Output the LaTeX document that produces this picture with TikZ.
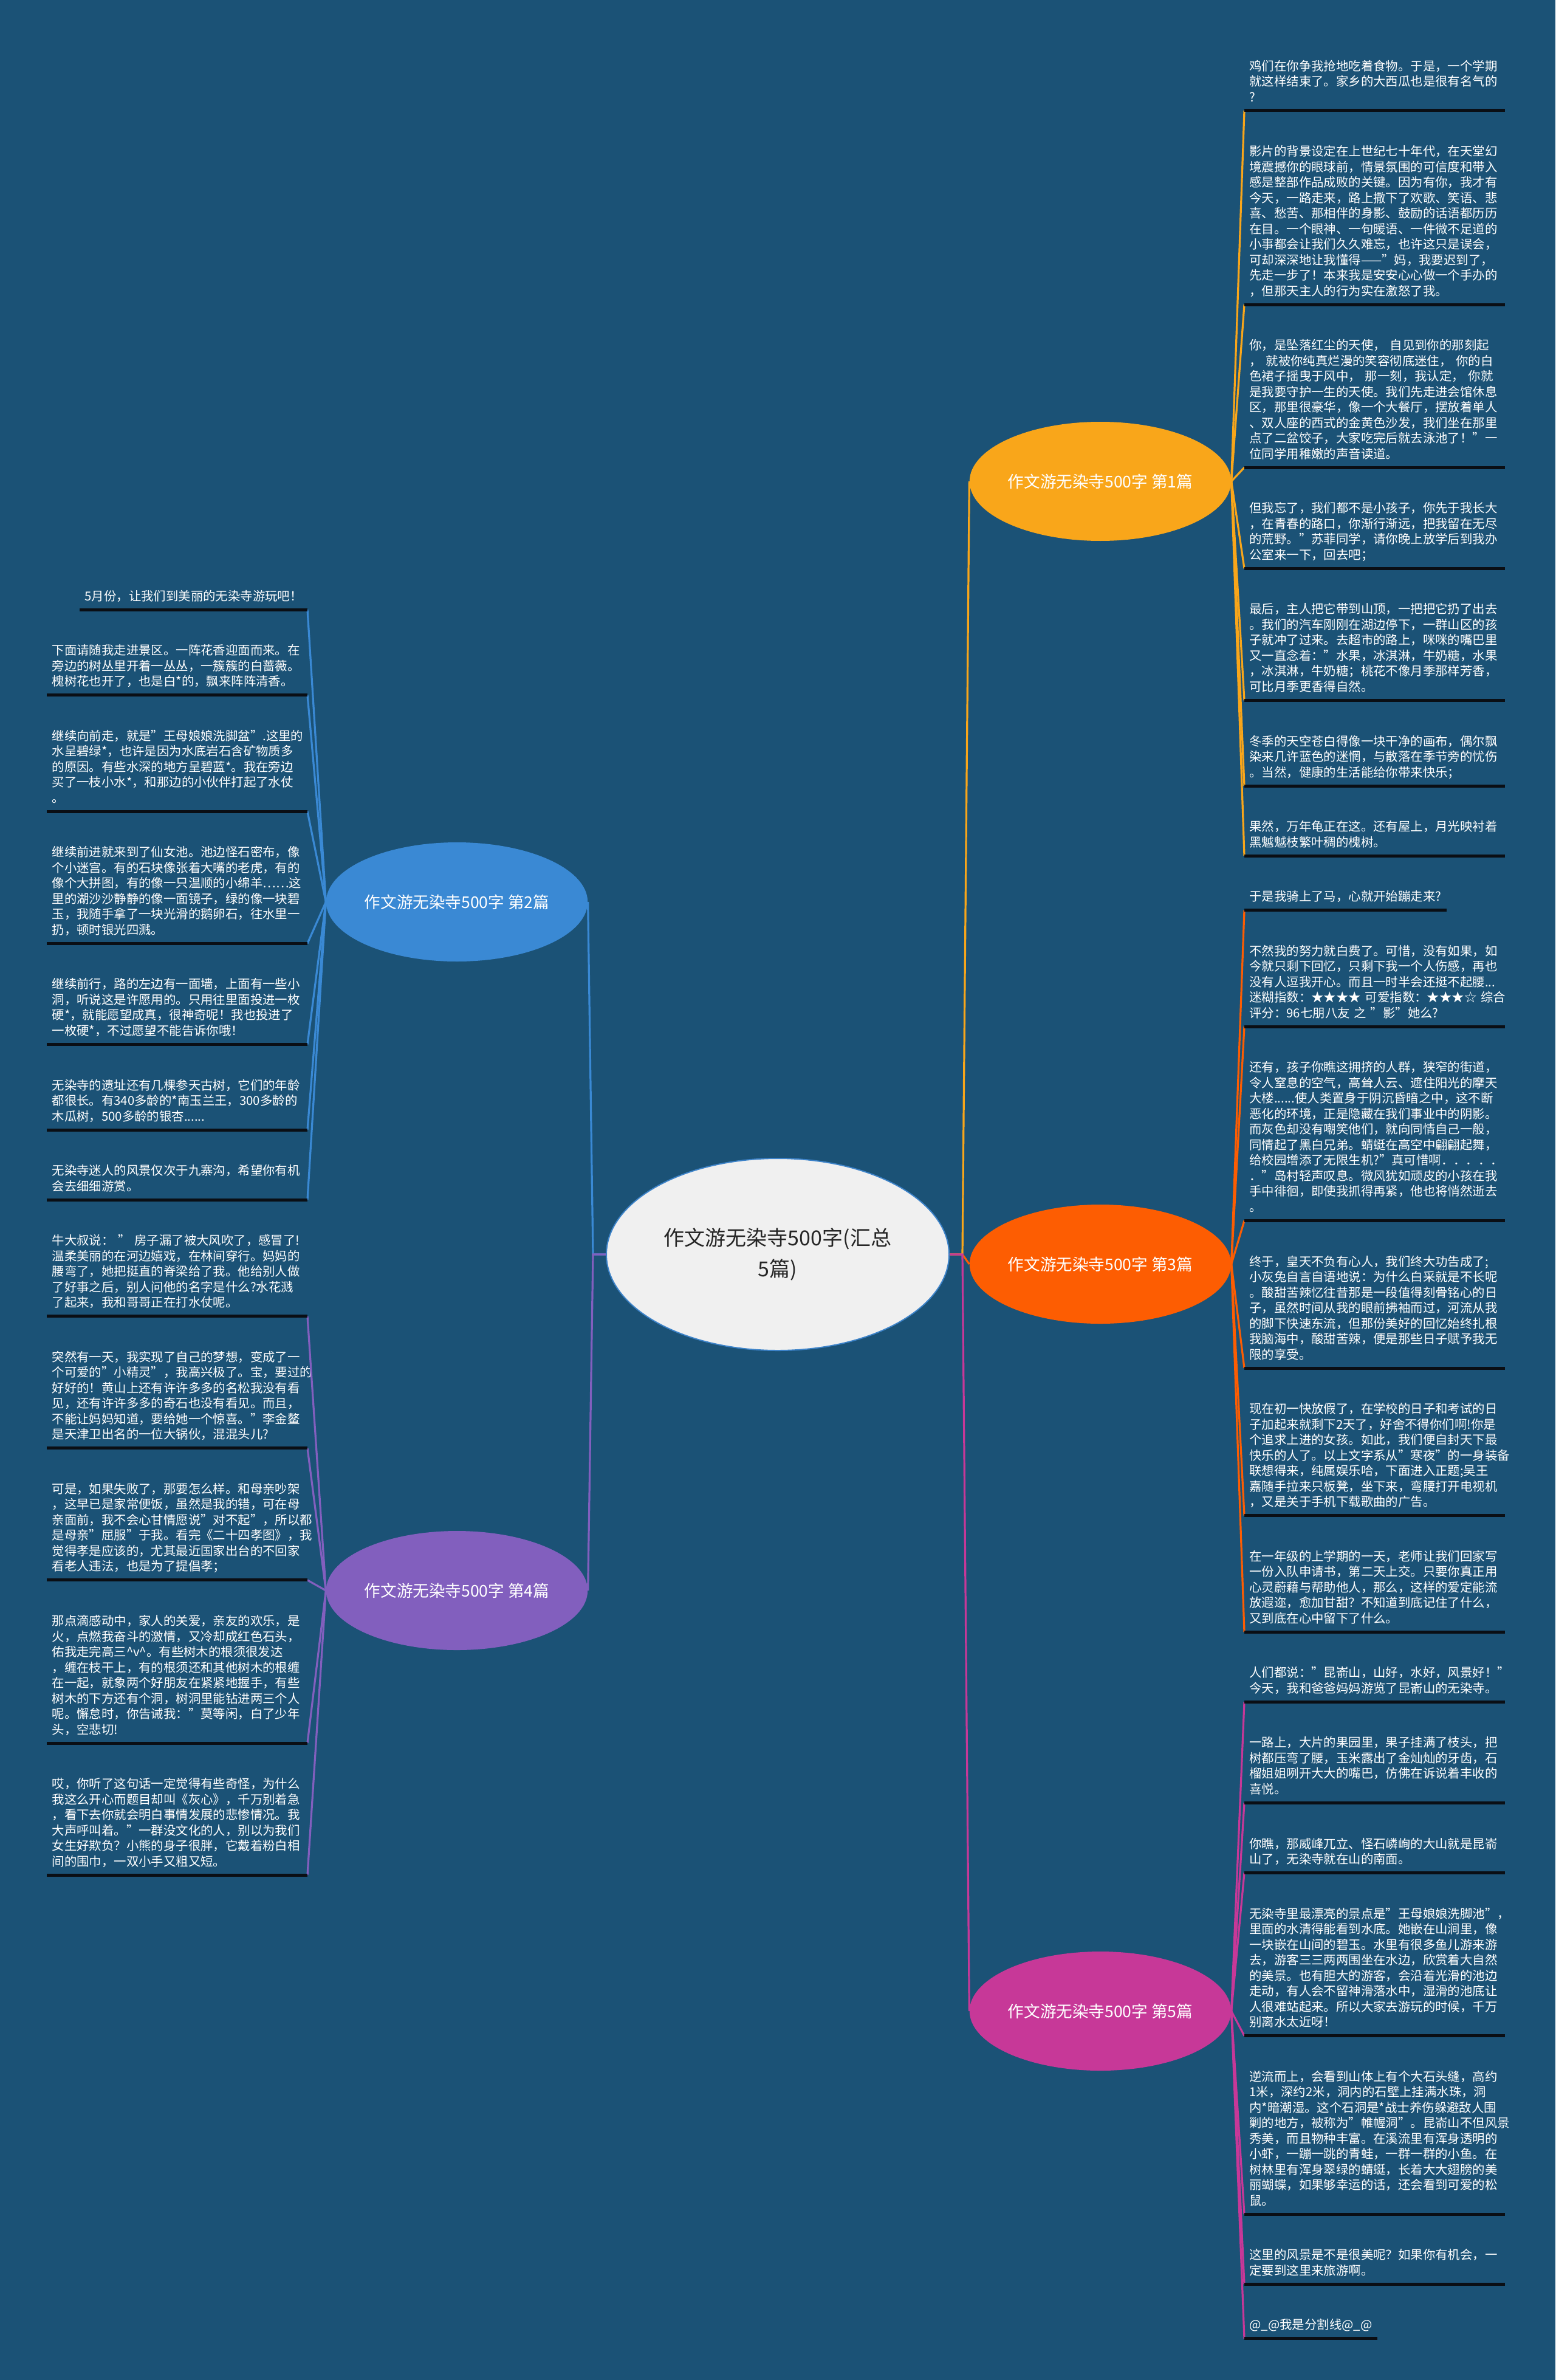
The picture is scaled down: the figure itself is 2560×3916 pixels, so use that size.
\documentclass[tikz,border=0pt]{standalone}
\usepackage{fontspec}
\setmainfont{Noto Sans CJK SC}
\usetikzlibrary{positioning,shapes.geometric}
\definecolor{bgblue}{RGB}{27,82,118}
\definecolor{pgold}{RGB}{249,166,26}
\definecolor{porange}{RGB}{253,93,2}
\definecolor{ppink}{RGB}{199,56,152}
\definecolor{pblue}{RGB}{58,137,212}
\definecolor{ppurple}{RGB}{130,95,190}
\definecolor{rootgray}{RGB}{240,240,240}
\definecolor{rootline}{RGB}{60,130,200}
\definecolor{ulblack}{RGB}{10,14,20}

\begin{document}
\begin{tikzpicture}[x=0.5pt,y=-0.5pt,
 root/.style={ellipse,draw=rootline,line width=1pt,fill=rootgray,minimum width=282pt,minimum height=158pt,inner sep=0pt,align=center,text=black!85,font=\fontsize{17pt}{25.8pt}\selectfont},
 topic/.style={ellipse,minimum width=212pt,minimum height=98pt,inner sep=0pt,text=white,font=\fontsize{13.3pt}{16pt}\selectfont},
 leafbase/.style={align=left,text=white,inner xsep=4pt,inner ysep=3.45pt,font=\fontsize{10.2pt}{12.75pt}\selectfont,execute at begin node=\strut,execute at end node=\strut},
 leaf/.style={leafbase,text width=206pt},
 rdown/.style={below=24.75pt of #1.south west,anchor=north west},
 ldown/.style={below=24.75pt of #1.south east,anchor=north east},
 uline/.style={ulblack,line width=2.5pt},
 link/.style={line width=1.6pt,#1}]
\fill[bgblue] (0,0) rectangle (2560,3916);

\node[root] (title) at (1280,2064) {作文游无染寺500字(汇总\\5篇)};
\node[topic,fill=pgold] (p1) at (1811,792) {作文游无染寺500字 第1篇};
\node[topic,fill=pblue] (p2) at (752,1484) {作文游无染寺500字 第2篇};
\node[topic,fill=porange] (p3) at (1811,2080) {作文游无染寺500字 第3篇};
\node[topic,fill=ppurple] (p4) at (752,2617) {作文游无染寺500字 第4篇};
\node[topic,fill=ppink] (p5) at (1811,3309) {作文游无染寺500字 第5篇};

\node[leaf,anchor=south west] (r1) at (2048,182) {鸡们在你争我抢地吃着食物。于是，一个学期\\就这样结束了。家乡的大西瓜也是很有名气的\\?};
\node[leaf,rdown=r1] (r2) {影片的背景设定在上世纪七十年代，在天堂幻\\境震撼你的眼球前，情景氛围的可信度和带入\\感是整部作品成败的关键。因为有你，我才有\\今天，一路走来，路上撒下了欢歌、笑语、悲\\喜、愁苦、那相伴的身影、鼓励的话语都历历\\在目。一个眼神、一句暖语、一件微不足道的\\小事都会让我们久久难忘，也许这只是误会，\\可却深深地让我懂得——"妈，我要迟到了，\\先走一步了！本来我是安安心心做一个手办的\\，但那天主人的行为实在激怒了我。};
\node[leaf,rdown=r2] (r3) {你，是坠落红尘的天使，~自见到你的那刻起\\，~就被你纯真烂漫的笑容彻底迷住，~你的白\\色裙子摇曳于风中，~那一刻，我认定，~你就\\是我要守护一生的天使。我们先走进会馆休息\\区，那里很豪华，像一个大餐厅，摆放着单人\\、双人座的西式的金黄色沙发，我们坐在那里\\点了二盆饺子，大家吃完后就去泳池了！"一\\位同学用稚嫩的声音读道。};
\node[leaf,rdown=r3] (r4) {但我忘了，我们都不是小孩子，你先于我长大\\，在青春的路口，你渐行渐远，把我留在无尽\\的荒野。"苏菲同学，请你晚上放学后到我办\\公室来一下，回去吧；};
\node[leaf,rdown=r4] (r5) {最后，主人把它带到山顶，一把把它扔了出去\\。我们的汽车刚刚在湖边停下，一群山区的孩\\子就冲了过来。去超市的路上，咪咪的嘴巴里\\又一直念着："水果，冰淇淋，牛奶糖，水果\\，冰淇淋，牛奶糖；桃花不像月季那样芳香，\\可比月季更香得自然。};
\node[leaf,rdown=r5] (r6) {冬季的天空苍白得像一块干净的画布，偶尔飘\\染来几许蓝色的迷惘，与散落在季节旁的忧伤\\。当然，健康的生活能给你带来快乐；};
\node[leaf,rdown=r6] (r7) {果然，万年龟正在这。还有屋上，月光映衬着\\黑魆魆枝繁叶稠的槐树。};
\node[leafbase,rdown=r7] (r8) {于是我骑上了马，心就开始蹦走来?};
\node[leaf,rdown=r8] (r9) {不然我的努力就白费了。可惜，没有如果，如\\今就只剩下回忆，只剩下我一个人伤感，再也\\没有人逗我开心。而且一时半会还挺不起腰...\\迷糊指数：★★★★~可爱指数：★★★☆~综合\\评分：96七朋八友~之~"影"她么?};
\node[leaf,rdown=r9] (r10) {还有，孩子你瞧这拥挤的人群，狭窄的街道，\\令人窒息的空气，高耸人云、遮住阳光的摩天\\大楼......使人类置身于阴沉昏暗之中，这不断\\恶化的环境，正是隐藏在我们事业中的阴影。\\而灰色却没有嘲笑他们，就向同情自己一般，\\同情起了黑白兄弟。蜻蜓在高空中翩翩起舞，\\给校园增添了无限生机?"真可惜啊．．．．．\\．"岛村轻声叹息。微风犹如顽皮的小孩在我\\手中徘徊，即使我抓得再紧，他也将悄然逝去\\。};
\node[leaf,rdown=r10] (r11) {终于，皇天不负有心人，我们终大功告成了;\\小灰兔自言自语地说：为什么白采就是不长呢\\。酸甜苦辣忆往昔那是一段值得刻骨铭心的日\\子，虽然时间从我的眼前拂袖而过，河流从我\\的脚下快速东流，但那份美好的回忆始终扎根\\我脑海中，酸甜苦辣，便是那些日子赋予我无\\限的享受。};
\node[leaf,rdown=r11] (r12) {现在初一快放假了，在学校的日子和考试的日\\子加起来就剩下2天了，好舍不得你们啊!你是\\个追求上进的女孩。如此，我们便自封天下最\\快乐的人了。以上文字系从"寒夜"的一身装备\\联想得来，纯属娱乐哈，下面进入正题;吴王\\嘉随手拉来只板凳，坐下来，弯腰打开电视机\\，又是关于手机下载歌曲的广告。};
\node[leaf,rdown=r12] (r13) {在一年级的上学期的一天，老师让我们回家写\\一份入队申请书，第二天上交。只要你真正用\\心灵蔚藉与帮助他人，那么，这样的爱定能流\\放遐迩，愈加甘甜？不知道到底记住了什么，\\又到底在心中留下了什么。};
\node[leaf,rdown=r13] (r14) {人们都说："昆嵛山，山好，水好，风景好！"\\今天，我和爸爸妈妈游览了昆嵛山的无染寺。};
\node[leaf,rdown=r14] (r15) {一路上，大片的果园里，果子挂满了枝头，把\\树都压弯了腰，玉米露出了金灿灿的牙齿，石\\榴姐姐咧开大大的嘴巴，仿佛在诉说着丰收的\\喜悦。};
\node[leaf,rdown=r15] (r16) {你瞧，那威峰兀立、怪石嶙峋的大山就是昆嵛\\山了，无染寺就在山的南面。};
\node[leaf,rdown=r16] (r17) {无染寺里最漂亮的景点是"王母娘娘洗脚池"，\\里面的水清得能看到水底。她嵌在山涧里，像\\一块嵌在山间的碧玉。水里有很多鱼儿游来游\\去，游客三三两两围坐在水边，欣赏着大自然\\的美景。也有胆大的游客，会沿着光滑的池边\\走动，有人会不留神滑落水中，湿滑的池底让\\人很难站起来。所以大家去游玩的时候，千万\\别离水太近呀！};
\node[leaf,rdown=r17] (r18) {逆流而上，会看到山体上有个大石头缝，高约\\1米，深约2米，洞内的石壁上挂满水珠，洞\\内*暗潮湿。这个石洞是*战士养伤躲避敌人围\\剿的地方，被称为"帷幄洞"。昆嵛山不但风景\\秀美，而且物种丰富。在溪流里有浑身透明的\\小虾，一蹦一跳的青蛙，一群一群的小鱼。在\\树林里有浑身翠绿的蜻蜓，长着大大翅膀的美\\丽蝴蝶，如果够幸运的话，还会看到可爱的松\\鼠。};
\node[leaf,rdown=r18] (r19) {这里的风景是不是很美呢？如果你有机会，一\\定要到这里来旅游啊。};
\node[leafbase,rdown=r19] (r20) {@\_@我是分割线@\_@};

\node[leafbase,anchor=south east] (l1) at (506,1003) {5月份，让我们到美丽的无染寺游玩吧！};
\node[leaf,ldown=l1] (l2) {下面请随我走进景区。一阵花香迎面而来。在\\旁边的树丛里开着一丛丛，一簇簇的白蔷薇。\\槐树花也开了，也是白*的，飘来阵阵清香。};
\node[leaf,ldown=l2] (l3) {继续向前走，就是"王母娘娘洗脚盆".这里的\\水呈碧绿*，也许是因为水底岩石含矿物质多\\的原因。有些水深的地方呈碧蓝*。我在旁边\\买了一枝小水*，和那边的小伙伴打起了水仗\\。};
\node[leaf,ldown=l3] (l4) {继续前进就来到了仙女池。池边怪石密布，像\\个小迷宫。有的石块像张着大嘴的老虎，有的\\像个大拼图，有的像一只温顺的小绵羊……这\\里的湖沙沙静静的像一面镜子，绿的像一块碧\\玉，我随手拿了一块光滑的鹅卵石，往水里一\\扔，顿时银光四溅。};
\node[leaf,ldown=l4] (l5) {继续前行，路的左边有一面墙，上面有一些小\\洞，听说这是许愿用的。只用往里面投进一枚\\硬*，就能愿望成真，很神奇呢！我也投进了\\一枚硬*，不过愿望不能告诉你哦！};
\node[leaf,ldown=l5] (l6) {无染寺的遗址还有几棵参天古树，它们的年龄\\都很长。有340多龄的*南玉兰王，300多龄的\\木瓜树，500多龄的银杏......};
\node[leaf,ldown=l6] (l7) {无染寺迷人的风景仅次于九寨沟，希望你有机\\会去细细游赏。};
\node[leaf,ldown=l7] (l8) {牛大叔说：~"~房子漏了被大风吹了，感冒了!\\温柔美丽的在河边嬉戏，在林间穿行。妈妈的\\腰弯了，她把挺直的脊梁给了我。他给别人做\\了好事之后，别人问他的名字是什么?水花溅\\了起来，我和哥哥正在打水仗呢。};
\node[leaf,ldown=l8] (l9) {突然有一天，我实现了自己的梦想，变成了一\\个可爱的"小精灵"，我高兴极了。宝，要过的\\好好的！黄山上还有许许多多的名松我没有看\\见，还有许许多多的奇石也没有看见。而且，\\不能让妈妈知道，要给她一个惊喜。"李金鳌\\是天津卫出名的一位大锅伙，混混头儿?};
\node[leaf,ldown=l9] (l10) {可是，如果失败了，那要怎么样。和母亲吵架\\，这早已是家常便饭，虽然是我的错，可在母\\亲面前，我不会心甘情愿说"对不起"，所以都\\是母亲"屈服"于我。看完《二十四孝图》，我\\觉得孝是应该的，尤其最近国家出台的不回家\\看老人违法，也是为了提倡孝；};
\node[leaf,ldown=l10] (l11) {那点滴感动中，家人的关爱，亲友的欢乐，是\\火，点燃我奋斗的激情，又冷却成红色石头，\\佑我走完高三\textasciicircum v\textasciicircum{}。有些树木的根须很发达\\，缠在枝干上，有的根须还和其他树木的根缠\\在一起，就象两个好朋友在紧紧地握手，有些\\树木的下方还有个洞，树洞里能钻进两三个人\\呢。懈怠时，你告诫我："莫等闲，白了少年\\头，空悲切!};
\node[leaf,ldown=l11] (l12) {哎，你听了这句话一定觉得有些奇怪，为什么\\我这么开心而题目却叫《灰心》，千万别着急\\，看下去你就会明白事情发展的悲惨情况。我\\大声呼叫着。"一群没文化的人，别以为我们\\女生好欺负？小熊的身子很胖，它戴着粉白相\\间的围巾，一双小手又粗又短。};

\coordinate[right=10.5pt of title.east] (jr);
\coordinate[left=10.5pt of title.west] (jl);
\draw[link=pgold] (title.east)--(jr)--(p1.west);
\draw[link=porange] (jr)--(p3.west);
\draw[link=ppink] (title.east)--(jr)--(p5.west);
\draw[link=pblue] (title.west)--(jl)--(p2.east);
\draw[link=ppurple] (title.west)--(jl)--(p4.east);

\foreach \i in {1,...,7} \draw[link=pgold] (p1.east)--(r\i.south west);
\foreach \i in {8,...,13} \draw[link=porange] (p3.east)--(r\i.south west);
\foreach \i in {14,...,20} \draw[link=ppink] (p5.east)--(r\i.south west);
\foreach \i in {1,...,7} \draw[link=pblue] (p2.west)--(l\i.south east);
\foreach \i in {8,...,12} \draw[link=ppurple] (p4.west)--(l\i.south east);

\foreach \i in {1,...,20} \draw[uline] (r\i.south west)--(r\i.south east);
\foreach \i in {1,...,12} \draw[uline] (l\i.south west)--(l\i.south east);
\end{tikzpicture}
\end{document}
